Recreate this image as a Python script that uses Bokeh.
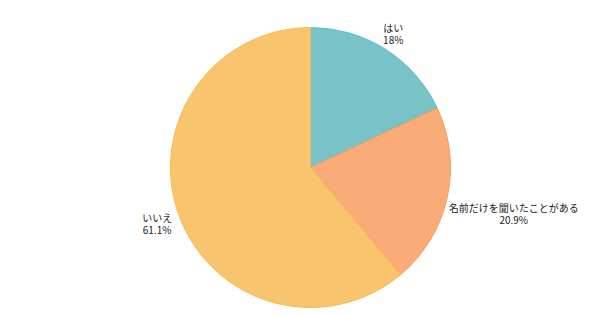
import math
from bokeh.plotting import figure
from bokeh.models import Range1d, ColumnDataSource
from bokeh.core.properties import value
from bokeh.embed import file_html
from bokeh.resources import INLINE

categories = ["はい", "名前だけを聞いたことがある", "いいえ"]
percents = [18, 20.9, 61.1]
pct_labels = ["18%", "20.9%", "61.1%"]
fills = ["#78C2C8", "#F9AC77", "#F8C56E"]
strokes = ["#5CC0DA", "#F89A5A", "#F7BA52"]

# layout (pixels)
CX, CY, R = 310, 148, 140
LABEL_R = 160
nudges = [(-3, -1), (47, -12), (-3, -1)]
HALF_GAP = 6

total = sum(percents)
starts, ends, lx, ly = [], [], [], []
cum = 0.0
for i, v in enumerate(percents):
    a0 = math.pi / 2 - 2 * math.pi * cum / total
    cum += v
    a1 = math.pi / 2 - 2 * math.pi * cum / total
    starts.append(a0)
    ends.append(a1)
    mid = (a0 + a1) / 2
    lx.append(CX + LABEL_R * math.cos(mid) + nudges[i][0])
    ly.append(CY + LABEL_R * math.sin(mid) + nudges[i][1])

src = ColumnDataSource(dict(start=starts, end=ends, fill=fills, stroke=strokes))
lsrc = ColumnDataSource(dict(x=lx, y1=[y + HALF_GAP for y in ly], y2=[y - HALF_GAP for y in ly],
                             cat=categories, pct=pct_labels))

p = figure(width=600, height=315, x_range=Range1d(0, 600), y_range=Range1d(0, 315),
           output_backend="svg", toolbar_location=None, min_border=0)
p.axis.visible = False
p.grid.visible = False
p.outline_line_color = None
p.background_fill_color = "white"

p.wedge(x=CX, y=CY, radius=R, start_angle="start", end_angle="end", direction="clock",
        fill_color="fill", line_color="stroke", line_width=1, source=src)

common = dict(source=lsrc, text_align="center", text_baseline="middle",
              text_font=value("Noto Sans CJK JP"), text_font_size="10px", text_color="#222222")
p.text(x="x", y="y1", text="cat", **common)
p.text(x="x", y="y2", text="pct", **common)

open("out.html", "w").write(file_html(p, INLINE))
